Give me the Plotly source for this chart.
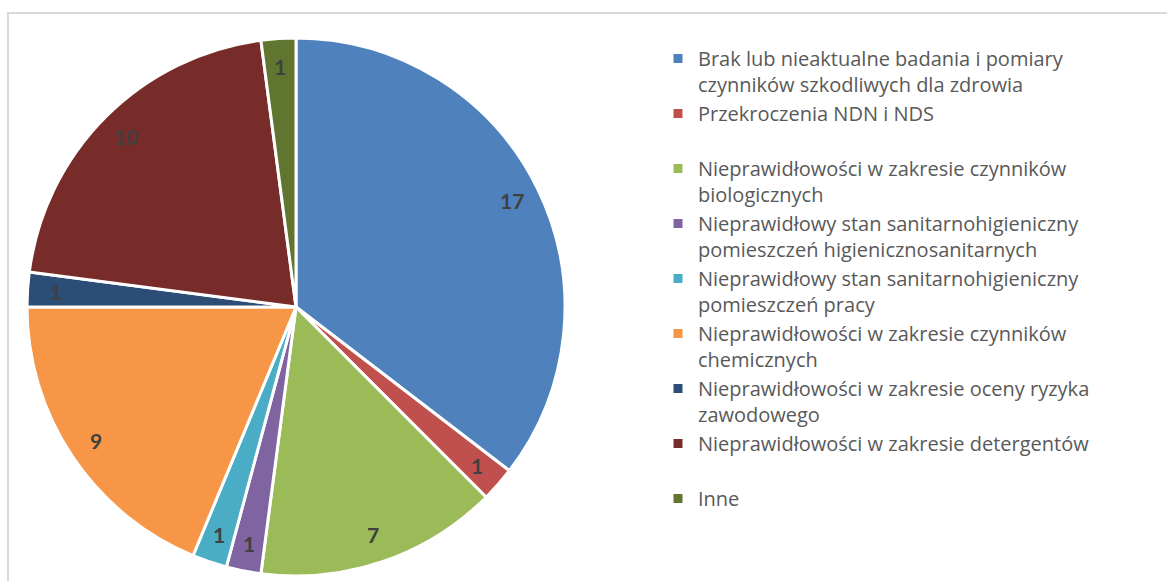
import math
import plotly.graph_objects as go

# Categories of irregularities and their counts
categories = [
    "Brak lub nieaktualne badania i pomiary<br>czynników szkodliwych dla zdrowia",
    "Przekroczenia NDN i NDS<br>\u00a0",
    "Nieprawidłowości w zakresie czynników<br>biologicznych",
    "Nieprawidłowy stan sanitarnohigieniczny<br>pomieszczeń higienicznosanitarnych",
    "Nieprawidłowy stan sanitarnohigieniczny<br>pomieszczeń pracy",
    "Nieprawidłowości w zakresie czynników<br>chemicznych",
    "Nieprawidłowości w zakresie oceny ryzyka<br>zawodowego",
    "Nieprawidłowości w zakresie detergentów<br>\u00a0",
    "Inne",
]
counts = [17, 1, 7, 1, 1, 9, 1, 10, 1]
colors = ["#4F81BD", "#C0504D", "#9BBB59", "#8064A2", "#4BACC6",
          "#F79646", "#2C4D75", "#772C2A", "#5F7530"]

W, H = 1167, 581
cx, cy, r = 296, 307, 269  # pie centre and radius in pixels
label_r = 0.895 * r        # value labels sit near the rim

fig = go.Figure(
    go.Pie(
        labels=categories,
        values=counts,
        sort=False,
        direction="clockwise",
        rotation=0,
        marker=dict(colors=colors, line=dict(color="white", width=3)),
        textinfo="none",
        domain=dict(x=[(cx - r) / W, (cx + r) / W],
                    y=[1 - (cy + r) / H, 1 - (cy - r) / H]),
        hoverinfo="label+value",
    )
)

# Value labels placed at each slice's mid-angle (clockwise from 12 o'clock)
total = sum(counts)
annotations = []
cum = 0
for v in counts:
    mid = (cum + v / 2) / total * 2 * math.pi
    cum += v
    px = cx + label_r * math.sin(mid)
    py = cy - label_r * math.cos(mid)
    annotations.append(dict(
        x=px / W, y=1 - py / H, xref="paper", yref="paper",
        xanchor="center", yanchor="middle",
        text=str(v), showarrow=False,
        font=dict(family="Lato", size=21, color="#404040", weight="bold"),
    ))

fig.update_layout(
    width=W,
    height=H,
    margin=dict(l=0, r=0, t=0, b=0),
    paper_bgcolor="white",
    plot_bgcolor="white",
    showlegend=True,
    legend=dict(
        x=658 / W,
        y=1 - 39 / H,
        xanchor="left",
        yanchor="top",
        valign="top",
        font=dict(family="Open Sans", size=20, color="#595959"),
        itemwidth=30,
        bgcolor="rgba(0,0,0,0)",
    ),
    annotations=annotations,
    shapes=[
        dict(type="rect", xref="paper", yref="paper",
             x0=8 / W, x1=1.02, y0=-0.02, y1=1 - 13 / H,
             line=dict(color="#D9D9D9", width=2), fillcolor="rgba(0,0,0,0)",
             layer="below"),
    ],
)

fig.write_html("out.html")
